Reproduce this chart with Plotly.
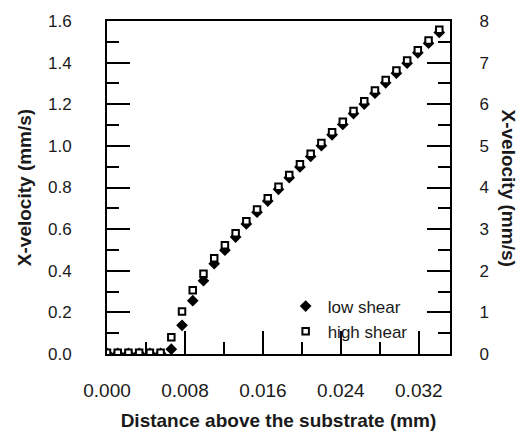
import plotly.graph_objects as go

# Distance above the substrate (mm)
x_mm = [0.0000, 0.0011, 0.0022, 0.0033, 0.0044, 0.0055, 0.0066, 0.0077,
        0.0088, 0.0099, 0.0110, 0.0121, 0.0132, 0.0143, 0.0154, 0.0165,
        0.0176, 0.0187, 0.0198, 0.0209, 0.0220, 0.0231, 0.0242, 0.0253,
        0.0264, 0.0275, 0.0286, 0.0297, 0.0308, 0.0319, 0.0330, 0.0341]

# low shear: left axis X-velocity (mm/s)
low_shear = [0.003, 0.003, 0.003, 0.003, 0.003, 0.003, 0.023, 0.138,
             0.256, 0.352, 0.434, 0.499, 0.562, 0.625, 0.681, 0.735,
             0.791, 0.847, 0.899, 0.949, 1.001, 1.053, 1.103, 1.155,
             1.201, 1.253, 1.303, 1.349, 1.397, 1.447, 1.493, 1.545]

# high shear: right axis X-velocity (mm/s)
high_shear = [0.03, 0.03, 0.03, 0.03, 0.03, 0.03, 0.40, 1.02,
              1.53, 1.93, 2.30, 2.61, 2.90, 3.19, 3.47, 3.74,
              4.02, 4.30, 4.56, 4.81, 5.07, 5.33, 5.58, 5.84,
              6.07, 6.33, 6.58, 6.81, 7.05, 7.30, 7.53, 7.79]

x_ticks = [0.000, 0.008, 0.016, 0.024, 0.032]
FONT = "Arial, Liberation Sans, sans-serif"
INK = "#1a1a1a"

fig = go.Figure()
fig.add_trace(go.Scatter(
    x=x_mm, y=low_shear, mode="markers", name="low shear",
    marker=dict(symbol="diamond", size=9, color="black", line=dict(width=0)),
    yaxis="y"))
fig.add_trace(go.Scatter(
    x=x_mm, y=high_shear, mode="markers", name="high shear",
    marker=dict(symbol="square", size=6.5, color="white",
                line=dict(color="black", width=2)),
    yaxis="y2"))

fig.update_layout(
    width=521, height=440,
    margin=dict(l=107, r=71, t=20, b=76),
    paper_bgcolor="white", plot_bgcolor="white",
    font=dict(family=FONT, color=INK),
    showlegend=True,
    legend=dict(x=0.515, y=0.105, xanchor="left", yanchor="middle",
                bgcolor="rgba(0,0,0,0)", font=dict(size=17, family=FONT, color=INK),
                itemwidth=34, tracegroupgap=0),
    xaxis=dict(range=[0, 0.0352], tickvals=x_ticks, tickformat=".3f",
               ticks="inside", ticklen=23, tickwidth=2, tickcolor="black",
               minor=dict(dtick=0.004, tick0=0, ticks="inside", ticklen=12,
                          tickwidth=2, tickcolor="black"),
               showline=True, linewidth=2, linecolor="black", mirror=True,
               showgrid=False, zeroline=False,
               tickfont=dict(size=19, family=FONT, color=INK),
               ticklabelstandoff=18,
               title=dict(text="<b>Distance above the substrate (mm)</b>",
                          font=dict(size=19, family=FONT, color=INK), standoff=14)),
    yaxis=dict(range=[0, 1.6], dtick=0.2, tick0=0, tickformat=".1f",
               ticks="inside", ticklen=23, tickwidth=2, tickcolor="black",
               minor=dict(dtick=0.1, tick0=0, ticks="inside", ticklen=12,
                          tickwidth=2, tickcolor="black"),
               showline=True, linewidth=2, linecolor="black",
               showgrid=False, zeroline=False,
               tickfont=dict(size=17, family=FONT, color=INK),
               ticklabelstandoff=30,
               title=dict(text="<b>X-velocity (mm/s)</b>",
                          font=dict(size=19, family=FONT, color=INK), standoff=11)),
    yaxis2=dict(range=[0, 8], dtick=1, tick0=0, overlaying="y", side="right",
                ticks="inside", ticklen=23, tickwidth=2, tickcolor="black",
                minor=dict(dtick=0.5, tick0=0, ticks="inside", ticklen=12,
                           tickwidth=2, tickcolor="black"),
                showline=True, linewidth=2, linecolor="black",
                showgrid=False, zeroline=False,
                tickfont=dict(size=17, family=FONT, color=INK),
                ticklabelstandoff=24),
    annotations=[dict(text="<b>X-velocity (mm/s)</b>", textangle=90,
                      xref="paper", yref="paper", x=1.0, xshift=58, y=0.5,
                      xanchor="center", yanchor="middle", showarrow=False,
                      font=dict(size=19, family=FONT, color=INK))],
)

fig.write_html("out.html")
